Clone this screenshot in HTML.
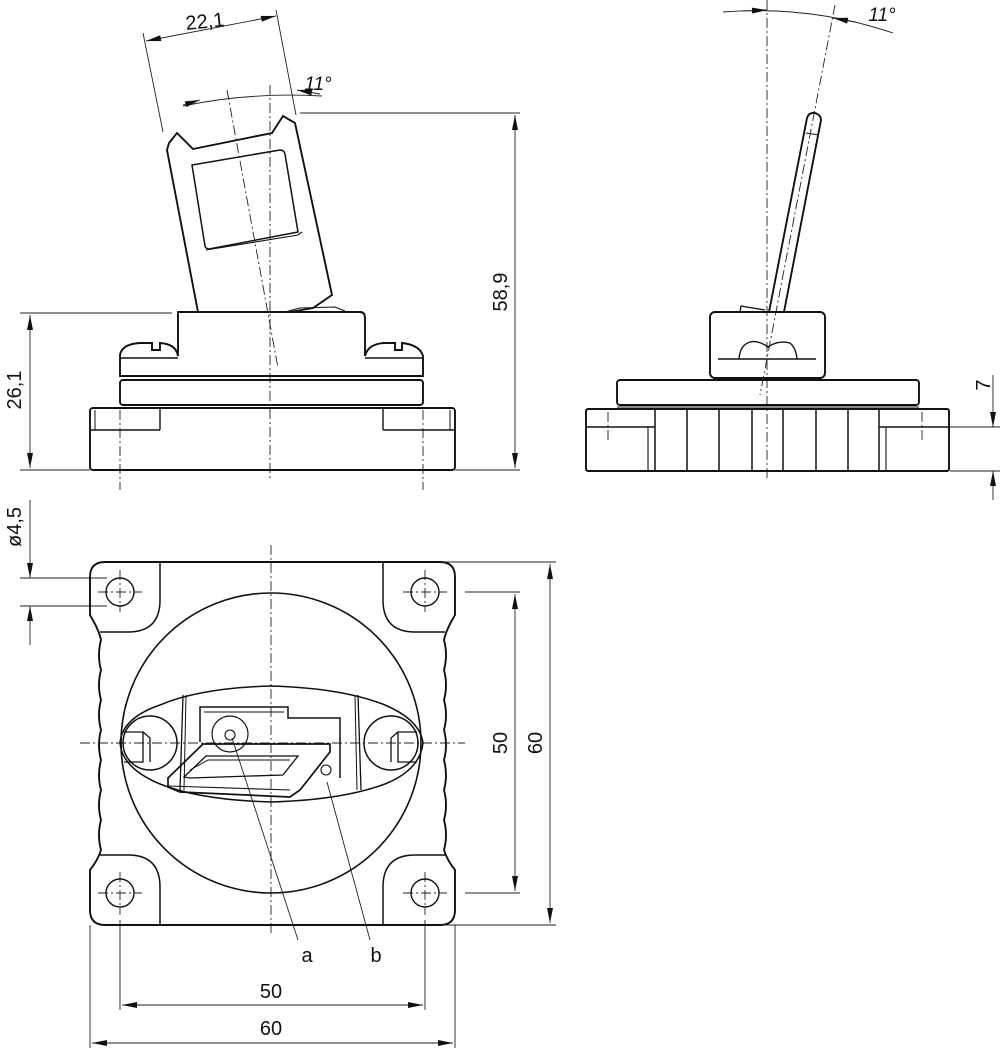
<!DOCTYPE html>
<html><head><meta charset="utf-8"><style>
html,body{margin:0;padding:0;background:#fff;}
svg{display:block;}
text{font-family:"Liberation Sans",sans-serif;fill:#111;}
</style></head><body>
<svg width="1000" height="1051" viewBox="0 0 1000 1051" xmlns="http://www.w3.org/2000/svg">
<defs>
<marker id="ar" viewBox="0 0 10 4" refX="10" refY="2" markerWidth="16" markerHeight="6" markerUnits="userSpaceOnUse" orient="auto-start-reverse"><path d="M0,0 L10,2 L0,4z" fill="#111"/></marker>
</defs>
<g fill="none" stroke="#111" stroke-width="1.9">
<!-- ===== FRONT VIEW ===== -->
<rect x="90" y="408" width="365" height="62" rx="3"/>
<line x1="90" y1="430" x2="160" y2="430" stroke-width="1.4"/>
<line x1="160" y1="408" x2="160" y2="430" stroke-width="1.4"/>
<line x1="383" y1="430" x2="455" y2="430" stroke-width="1.4"/>
<line x1="383" y1="408" x2="383" y2="430" stroke-width="1.4"/>
<line x1="95" y1="410" x2="95" y2="430" stroke-width="1"/>
<line x1="450" y1="410" x2="450" y2="430" stroke-width="1"/>
<rect x="120" y="380" width="303" height="25" rx="3"/>
<path d="M120,376 L120,355 Q122,344 140,343 L152,343 L152,350 L160,350 L160,343 Q176,344 178,356 L178,312 L360,312 Q365,312 365,318 L365,356 Q368,344 384,343 L395,343 L395,350 L402,350 L402,343 Q420,345 423,356 L423,376 Z"/>
<line x1="120" y1="358" x2="178" y2="358" stroke-width="1.4"/>
<line x1="365" y1="358" x2="423" y2="358" stroke-width="1.4"/>
<!-- lever plate -->
<path d="M198,312 L167,150 L169,143 L177,133 L193,149 L272,133 L283,116 L295,123 L332,295 L313,308 L290,312"/>
<path d="M192,165 L280,150 Q284,150 285,154 L298,232 L209,249 Q206,249 205,246 Z" stroke-width="1.5"/>
<path d="M206,250 L298,235 L302,232" stroke-width="1.1"/>
<path d="M285,312 L300,308 L335,307 L345,311" stroke-width="1.1"/>
</g>
<g fill="none" stroke="#222" stroke-width="0.9" stroke-dasharray="10,3,2,3">
<line x1="270" y1="85" x2="270" y2="480"/>
<line x1="120" y1="410" x2="120" y2="490"/>
<line x1="423" y1="410" x2="423" y2="490"/>
<line x1="227" y1="90" x2="278" y2="368"/>
<line x1="767" y1="0" x2="767" y2="480"/>
<line x1="835" y1="5" x2="760" y2="395"/>
<line x1="608" y1="412" x2="608" y2="440"/>
<line x1="922" y1="412" x2="922" y2="440"/>
<line x1="271" y1="545" x2="271" y2="935"/>
<line x1="80" y1="743" x2="465" y2="743"/>
<line x1="120" y1="570" x2="120" y2="612"/><line x1="98" y1="592" x2="142" y2="592"/>
<line x1="425" y1="570" x2="425" y2="612"/><line x1="403" y1="592" x2="447" y2="592"/>
<line x1="120" y1="872" x2="120" y2="915"/><line x1="98" y1="893" x2="142" y2="893"/>
<line x1="425" y1="872" x2="425" y2="915"/><line x1="403" y1="893" x2="447" y2="893"/>
</g>
<g fill="none" stroke="#222" stroke-width="0.9">
<line x1="143" y1="33" x2="163" y2="132"/>
<line x1="276" y1="10" x2="296" y2="115"/>
<line x1="146" y1="41" x2="276" y2="16" marker-start="url(#ar)" marker-end="url(#ar)"/>
<path d="M183,106 Q250,92 322,96"/>
<line x1="183" y1="105" x2="200" y2="100" marker-end="url(#ar)"/>
<line x1="320" y1="94" x2="297" y2="90" marker-end="url(#ar)"/>
<line x1="300" y1="113" x2="520" y2="113"/>
<line x1="20" y1="313" x2="172" y2="313"/>
<line x1="20" y1="470" x2="90" y2="470"/>
<line x1="455" y1="470" x2="520" y2="470"/>
<line x1="515" y1="115" x2="515" y2="468" marker-start="url(#ar)" marker-end="url(#ar)"/>
<line x1="30" y1="315" x2="30" y2="468" marker-start="url(#ar)" marker-end="url(#ar)"/>
<path d="M723,12 Q810,5 893,33"/>
<line x1="742" y1="11" x2="767" y2="10" marker-end="url(#ar)"/>
<line x1="855" y1="22" x2="833" y2="18" marker-end="url(#ar)"/>
<line x1="950" y1="427" x2="1000" y2="427"/>
<line x1="950" y1="471" x2="1000" y2="471"/>
<line x1="993" y1="375" x2="993" y2="427" marker-end="url(#ar)"/>
<line x1="993" y1="500" x2="993" y2="471" marker-end="url(#ar)"/>
<line x1="20" y1="578" x2="107" y2="578"/>
<line x1="20" y1="606" x2="107" y2="606"/>
<line x1="30" y1="500" x2="30" y2="578" marker-end="url(#ar)"/>
<line x1="30" y1="645" x2="30" y2="606" marker-end="url(#ar)"/>
<line x1="440" y1="562" x2="556" y2="562"/>
<line x1="440" y1="925" x2="556" y2="925"/>
<line x1="465" y1="592" x2="520" y2="592"/>
<line x1="465" y1="893" x2="520" y2="893"/>
<line x1="515" y1="594" x2="515" y2="891" marker-start="url(#ar)" marker-end="url(#ar)"/>
<line x1="550" y1="564" x2="550" y2="923" marker-start="url(#ar)" marker-end="url(#ar)"/>
<line x1="120" y1="920" x2="120" y2="1010"/>
<line x1="425" y1="920" x2="425" y2="1010"/>
<line x1="90" y1="925" x2="90" y2="1048"/>
<line x1="455" y1="925" x2="455" y2="1048"/>
<line x1="122" y1="1005" x2="423" y2="1005" marker-start="url(#ar)" marker-end="url(#ar)"/>
<line x1="92" y1="1043" x2="453" y2="1043" marker-start="url(#ar)" marker-end="url(#ar)"/>
<line x1="232" y1="738" x2="298" y2="940"/>
<line x1="327" y1="782" x2="370" y2="940"/>
</g>
<g fill="none" stroke="#111" stroke-width="1.9">
<!-- ===== SIDE VIEW ===== -->
<rect x="586" y="409" width="363" height="62" rx="2"/>
<line x1="586" y1="427" x2="655" y2="427" stroke-width="1.4"/>
<line x1="879" y1="427" x2="949" y2="427" stroke-width="1.4"/>
<line x1="648" y1="427" x2="648" y2="471" stroke-width="1.1"/>
<line x1="886" y1="427" x2="886" y2="471" stroke-width="1.1"/>
<g stroke-width="1.5">
<line x1="655" y1="409" x2="655" y2="471"/><line x1="687" y1="409" x2="687" y2="471"/>
<line x1="719" y1="409" x2="719" y2="471"/><line x1="752" y1="409" x2="752" y2="471"/>
<line x1="783" y1="409" x2="783" y2="471"/><line x1="816" y1="409" x2="816" y2="471"/>
<line x1="848" y1="409" x2="848" y2="471"/><line x1="879" y1="409" x2="879" y2="471"/>
</g>
<rect x="617" y="380" width="302" height="25" rx="3"/>
<line x1="617" y1="407" x2="919" y2="407" stroke-width="1.1"/>
<rect x="710" y="312" width="115" height="66" rx="5"/>
<line x1="718" y1="359" x2="816" y2="359" stroke-width="1.4"/>
<path d="M739,359 Q740,345 750,342 Q758,340 768,347 Q778,340 790,343 Q796,348 797,359" stroke-width="1.4"/>
<path d="M740,312 L741,306 L765,310" stroke-width="1.3"/>
<path d="M769,312 L807,118 Q809,112 815,113 Q821,115 821,120 L784,312" />
<line x1="806" y1="133" x2="819" y2="135" stroke-width="1.1"/>
<!-- ===== PLAN VIEW ===== -->
<path d="M105,562 L440,562 Q455,562 455,577 L455,615 Q446,630 444,640 Q448,655 444,670 Q448,685 444,700 Q448,715 444,730 Q448,745 444,760 Q448,775 444,790 Q448,805 444,820 Q448,835 444,850 Q447,860 455,870 L455,910 Q455,925 440,925 L105,925 Q90,925 90,910 L90,870 Q98,860 101,850 Q97,835 101,820 Q97,805 101,790 Q97,775 101,760 Q97,745 101,730 Q97,715 101,700 Q97,685 101,670 Q97,655 101,640 Q99,630 90,615 L90,577 Q90,562 105,562 Z"/>
<path d="M160,562 L160,600 Q160,632 128,632 L100,632" stroke-width="1.5"/>
<path d="M383,562 L383,600 Q383,632 415,632 L445,632" stroke-width="1.5"/>
<path d="M160,925 L160,887 Q160,855 128,855 L100,855" stroke-width="1.5"/>
<path d="M383,925 L383,887 Q383,855 415,855 L445,855" stroke-width="1.5"/>
<circle cx="120" cy="592" r="14" stroke-width="1.4"/>
<circle cx="425" cy="592" r="14" stroke-width="1.4"/>
<circle cx="120" cy="893" r="14" stroke-width="1.4"/>
<circle cx="425" cy="893" r="14" stroke-width="1.4"/>
<circle cx="271" cy="743" r="150" stroke-width="1.6"/>
<path d="M160,705 Q200,688 271,686 Q342,688 385,705 Q420,720 423,743 Q420,770 385,784 Q342,800 271,802 Q200,800 160,784 Q122,768 120,743 Q122,718 160,705 Z" stroke-width="1.5"/>
<circle cx="150" cy="743" r="27" stroke-width="1.5"/>
<circle cx="391" cy="743" r="27" stroke-width="1.5"/>
<path d="M124,732 L143,732 L143,762 L124,762 M143,732 L150,738 L150,762" stroke-width="1.3"/>
<path d="M417,732 L398,732 L398,762 L417,762 M398,732 L391,738 L391,762" stroke-width="1.3"/>
<line x1="183" y1="695" x2="180" y2="790" stroke-width="1.3"/>
<line x1="186" y1="695" x2="184" y2="790" stroke-width="1"/>
<line x1="358" y1="695" x2="361" y2="790" stroke-width="1.3"/>
<line x1="355" y1="695" x2="357" y2="790" stroke-width="1"/>
<path d="M200,742 L200,707 L288,707 L288,718 L340,718 L340,778" stroke-width="1.5"/>
<path d="M204,712 L284,712" stroke-width="1"/>
<circle cx="230" cy="734" r="18" stroke-width="1.2"/>
<circle cx="230" cy="735" r="5" stroke-width="1.1"/>
<path d="M168,778 L203,744 L330,744 L330,752 L300,790 L290,797 L180,792 L168,787 Z" stroke-width="1.7"/>
<path d="M184,777 L206,756 L298,756 L283,775 L190,778 Z" stroke-width="1.3"/>
<path d="M190,770 L208,760 L290,760" stroke-width="1"/>
<line x1="168" y1="786" x2="290" y2="790" stroke-width="1.1"/>
<circle cx="326" cy="770" r="5" stroke-width="1.1"/>
</g>
<text x="205" y="28" font-size="20" text-anchor="middle" transform="rotate(-6 205 22)">22,1</text>
<text x="318" y="90" font-size="19" font-style="italic" text-anchor="middle">11°</text>
<text x="882" y="21" font-size="19" font-style="italic" text-anchor="middle">11°</text>
<text x="507" y="292" font-size="20" text-anchor="middle" transform="rotate(-90 507 292)">58,9</text>
<text x="21" y="390" font-size="20" text-anchor="middle" transform="rotate(-90 21 390)">26,1</text>
<text x="990" y="385" font-size="20" text-anchor="middle" transform="rotate(-90 990 385)">7</text>
<text x="21" y="527" font-size="20" text-anchor="middle" transform="rotate(-90 21 527)">ø4,5</text>
<text x="507" y="743" font-size="20" text-anchor="middle" transform="rotate(-90 507 743)">50</text>
<text x="542" y="743" font-size="20" text-anchor="middle" transform="rotate(-90 542 743)">60</text>
<text x="271" y="998" font-size="20" text-anchor="middle">50</text>
<text x="271" y="1035" font-size="20" text-anchor="middle">60</text>
<text x="307" y="962" font-size="20" text-anchor="middle">a</text>
<text x="376" y="962" font-size="20" text-anchor="middle">b</text>
</svg>
</body></html>
